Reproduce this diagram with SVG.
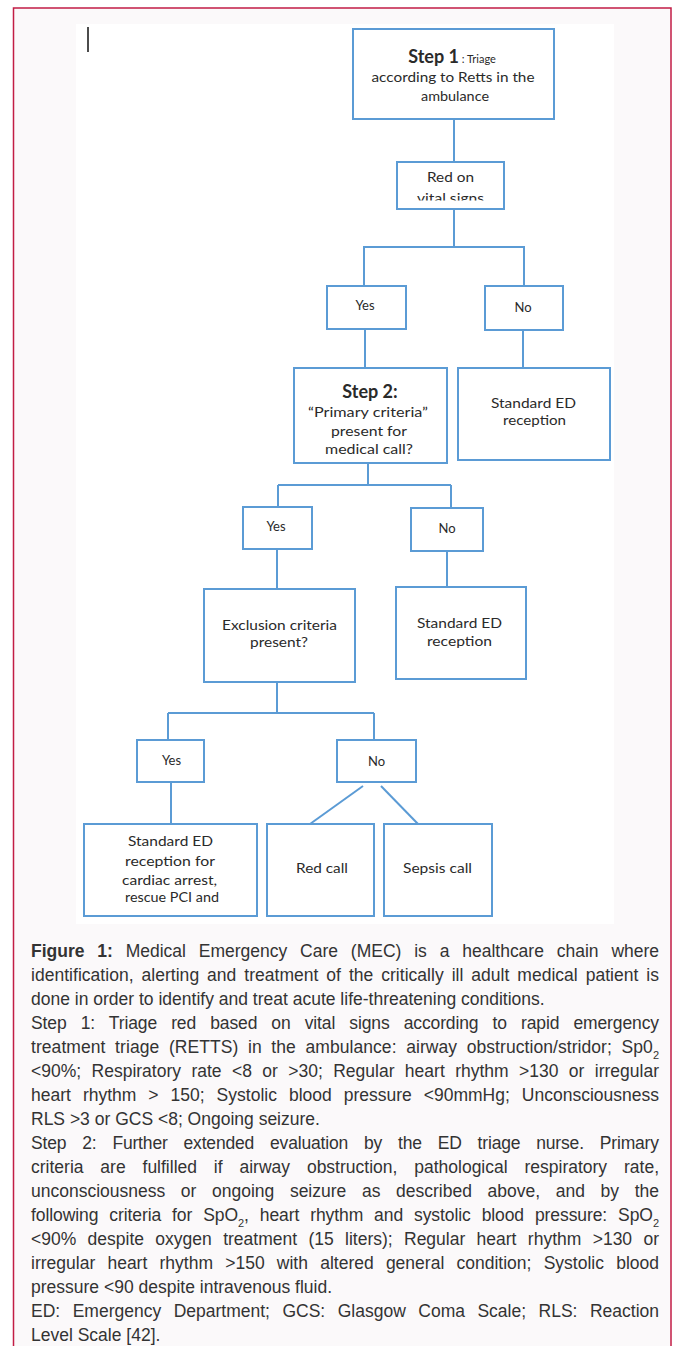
<svg xmlns="http://www.w3.org/2000/svg" width="681" height="1346" viewBox="0 0 681 1346">
<defs>
<style>
.box{fill:#fff;stroke:#5b9bd5;stroke-width:2}
.conn path{stroke:#5b9bd5;stroke-width:2;fill:none}
.nt{font-family:Lato,"Open Sans","Liberation Sans",sans-serif;font-size:13px;fill:#2a2a2a;text-anchor:middle}
.nb{font-weight:bold;font-size:18px}
.sm{font-size:11px}
.cap{font-family:"Liberation Sans",Arial,sans-serif;font-size:17.5px;fill:#333}
.sub{font-size:11px;baseline-shift:sub}
</style>
<clipPath id="clipRed"><rect x="397" y="162" width="107" height="38.5"/></clipPath>
</defs>
<rect x="0" y="0" width="681" height="1346" fill="#fff"/>
<path d="M13.5 1350 V8 H671 V1350" fill="#fbf9fa" stroke="#c21d45" stroke-width="1.5"/>
<rect x="76" y="24" width="538" height="900" fill="#fff"/>
<line x1="88" y1="27" x2="88" y2="52" stroke="#111" stroke-width="1.5"/>

<g id="connectors" class="conn">
<path d="M454 119 V162"/>
<path d="M454 209 V247"/>
<path d="M363 247 H525"/>
<path d="M364 247 V286"/>
<path d="M524 247 V286"/>
<path d="M365 329 V368"/>
<path d="M523 330 V368"/>
<path d="M368 463 V485"/>
<path d="M278 485 H451"/>
<path d="M278 485 V507"/>
<path d="M451 485 V508"/>
<path d="M277 549 V589"/>
<path d="M447 551 V587"/>
<path d="M277 682 V713"/>
<path d="M168 713 H374"/>
<path d="M168 713 V740"/>
<path d="M374 713 V740"/>
<path d="M171 782 V824"/>
<path d="M363 786 L310 824"/>
<path d="M381 786 L418 824"/>
</g>

<g id="step1">
<rect class="box" x="353" y="29" width="201" height="90"/>
<text class="nt" x="452" y="63"><tspan class="nb">Step 1</tspan><tspan class="sm"> : Triage</tspan></text>
<text class="nt" x="453" y="82" textLength="163" lengthAdjust="spacingAndGlyphs">according to Retts in the</text>
<text class="nt" x="455" y="101" textLength="68" lengthAdjust="spacingAndGlyphs">ambulance</text>
</g>

<g id="redon">
<rect class="box" x="397" y="162" width="107" height="47"/>
<text class="nt" x="450.5" y="182" textLength="47" lengthAdjust="spacingAndGlyphs">Red on</text>
<text class="nt" x="450.5" y="202.5" textLength="67" lengthAdjust="spacingAndGlyphs" clip-path="url(#clipRed)">vital signs</text>
</g>

<g id="yes1">
<rect class="box" x="327" y="286" width="79" height="43"/>
<text class="nt" x="365" y="310">Yes</text>
</g>

<g id="no1">
<rect class="box" x="485" y="286" width="78" height="44"/>
<text class="nt" x="523" y="312">No</text>
</g>

<g id="step2">
<rect class="box" x="294" y="368" width="153" height="95"/>
<text class="nt nb" x="370" y="398">Step 2:</text>
<text class="nt" x="368" y="417" textLength="120" lengthAdjust="spacingAndGlyphs">“Primary criteria”</text>
<text class="nt" x="369" y="436" textLength="76" lengthAdjust="spacingAndGlyphs">present for</text>
<text class="nt" x="369" y="454" textLength="88" lengthAdjust="spacingAndGlyphs">medical call?</text>
</g>

<g id="std1">
<rect class="box" x="458" y="368" width="152" height="92"/>
<text class="nt" x="533.5" y="408" textLength="85" lengthAdjust="spacingAndGlyphs">Standard ED</text>
<text class="nt" x="534.5" y="425" textLength="63" lengthAdjust="spacingAndGlyphs">reception</text>
</g>

<g id="yes2">
<rect class="box" x="243" y="507" width="69" height="42"/>
<text class="nt" x="276" y="531">Yes</text>
</g>

<g id="no2">
<rect class="box" x="411" y="508" width="72" height="43"/>
<text class="nt" x="447" y="533">No</text>
</g>

<g id="exclusion">
<rect class="box" x="204" y="589" width="151" height="93"/>
<text class="nt" x="279.5" y="630" textLength="115" lengthAdjust="spacingAndGlyphs">Exclusion criteria</text>
<text class="nt" x="279" y="647" textLength="58" lengthAdjust="spacingAndGlyphs">present?</text>
</g>

<g id="std2">
<rect class="box" x="396" y="587" width="130" height="92"/>
<text class="nt" x="459.5" y="628" textLength="85" lengthAdjust="spacingAndGlyphs">Standard ED</text>
<text class="nt" x="459.5" y="646" textLength="65" lengthAdjust="spacingAndGlyphs">reception</text>
</g>

<g id="yes3">
<rect class="box" x="137" y="740" width="67" height="42"/>
<text class="nt" x="171.5" y="765">Yes</text>
</g>

<g id="no3">
<rect class="box" x="337" y="740" width="79" height="42"/>
<text class="nt" x="376.5" y="766">No</text>
</g>

<g id="std3">
<rect class="box" x="84" y="824" width="173" height="92"/>
<text class="nt" x="170.5" y="846" textLength="85" lengthAdjust="spacingAndGlyphs">Standard ED</text>
<text class="nt" x="170" y="866" textLength="90" lengthAdjust="spacingAndGlyphs">reception for</text>
<text class="nt" x="169.5" y="885" textLength="95" lengthAdjust="spacingAndGlyphs">cardiac arrest,</text>
<text class="nt" x="172" y="902" textLength="94" lengthAdjust="spacingAndGlyphs">rescue PCI and</text>
</g>

<g id="redcall">
<rect class="box" x="267" y="824" width="107" height="92"/>
<text class="nt" x="322" y="873" textLength="52" lengthAdjust="spacingAndGlyphs">Red call</text>
</g>

<g id="sepsiscall">
<rect class="box" x="384" y="824" width="108" height="92"/>
<text class="nt" x="437.5" y="873" textLength="69" lengthAdjust="spacingAndGlyphs">Sepsis call</text>
</g>

<g id="caption" class="cap">
<text x="31" y="957" word-spacing="8" textLength="628" lengthAdjust="spacing"><tspan font-weight="bold">Figure 1:</tspan> Medical Emergency Care (MEC) is a healthcare chain where</text>
<text x="31" y="981" word-spacing="3" textLength="628" lengthAdjust="spacing">identification, alerting and treatment of the critically ill adult medical patient is</text>
<text x="31" y="1005">done in order to identify and treat acute life-threatening conditions.</text>
<text x="31" y="1029" word-spacing="9.4" textLength="628" lengthAdjust="spacing">Step 1: Triage red based on vital signs according to rapid emergency</text>
<text x="31" y="1053" word-spacing="4.7" textLength="628" lengthAdjust="spacing">treatment triage (RETTS) in the ambulance: airway obstruction/stridor; Sp0<tspan class="sub">2</tspan></text>
<text x="31" y="1077" word-spacing="5.5" textLength="628" lengthAdjust="spacing">&lt;90%; Respiratory rate &lt;8 or &gt;30; Regular heart rhythm &gt;130 or irregular</text>
<text x="31" y="1101" word-spacing="7.1" textLength="628" lengthAdjust="spacing">heart rhythm &gt; 150; Systolic blood pressure &lt;90mmHg; Unconsciousness</text>
<text x="31" y="1125">RLS &gt;3 or GCS &lt;8; Ongoing seizure.</text>
<text x="31" y="1149" word-spacing="11.2" textLength="628" lengthAdjust="spacing">Step 2: Further extended evaluation by the ED triage nurse. Primary</text>
<text x="31" y="1173" word-spacing="12" textLength="628" lengthAdjust="spacing">criteria are fulfilled if airway obstruction, pathological respiratory rate,</text>
<text x="31" y="1197" word-spacing="10.8" textLength="628" lengthAdjust="spacing">unconsciousness or ongoing seizure as described above, and by the</text>
<text x="31" y="1221" word-spacing="6.2" textLength="628" lengthAdjust="spacing">following criteria for SpO<tspan class="sub">2</tspan>, heart rhythm and systolic blood pressure: SpO<tspan class="sub">2</tspan></text>
<text x="31" y="1245" word-spacing="6.5" textLength="628" lengthAdjust="spacing">&lt;90% despite oxygen treatment (15 liters); Regular heart rhythm &gt;130 or</text>
<text x="31" y="1269" word-spacing="7.3" textLength="628" lengthAdjust="spacing">irregular heart rhythm &gt;150 with altered general condition; Systolic blood</text>
<text x="31" y="1293">pressure &lt;90 despite intravenous fluid.</text>
<text x="31" y="1317" word-spacing="7.6" textLength="628" lengthAdjust="spacing">ED: Emergency Department; GCS: Glasgow Coma Scale; RLS: Reaction</text>
<text x="31" y="1341">Level Scale [42].</text>
</g>
</svg>
